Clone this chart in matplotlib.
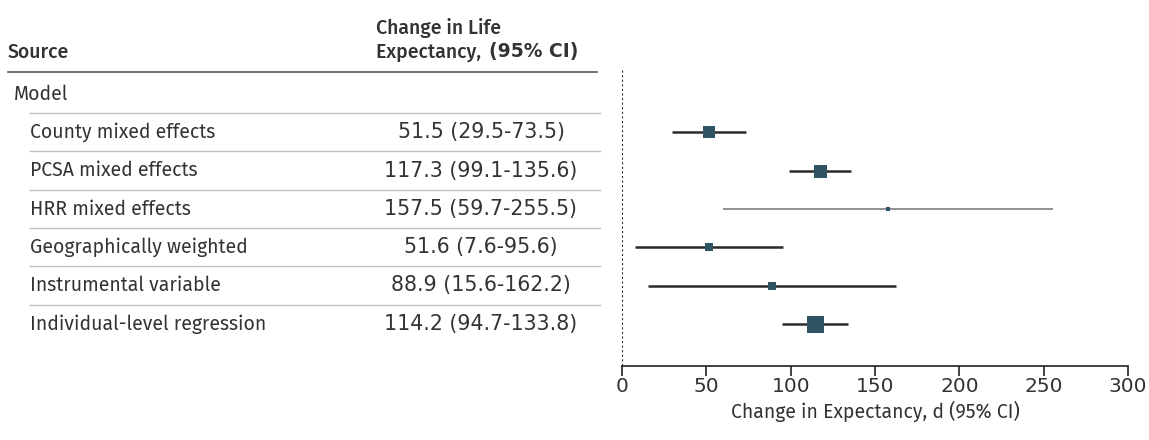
import matplotlib.pyplot as plt
import numpy as np

plt.rcParams['font.family'] = ['Fira Sans', 'DejaVu Sans']

models = ["County mixed effects", "PCSA mixed effects", "HRR mixed effects",
          "Geographically weighted", "Instrumental variable", "Individual-level regression"]
est = [51.5, 117.3, 157.5, 51.6, 88.9, 114.2]
lo = [29.5, 99.1, 59.7, 7.6, 15.6, 94.7]
hi = [73.5, 135.6, 255.5, 95.6, 162.2, 133.8]
# marker side in px (relative weight of each estimate)
weight = [12, 13, 5, 8, 8, 17]
xticks = [0, 50, 100, 150, 200, 250, 300]

txt = "#333333"
sq = "#2f5565"
numfont = "DejaVu Sans"   # wide figures, like the original

W, H = 1149, 440
fig = plt.figure(figsize=(W / 100, H / 100), dpi=100)

row0 = 94
step = 38.3
top, bot = 70, 366

# table layer in pixel coordinates
tab = fig.add_axes([0, 0, 1, 1])
tab.set_xlim(0, W)
tab.set_ylim(H, 0)
tab.axis("off")

fs = 14
nfs = 14.8
tab.text(8, 52, "Source", fontsize=fs, color=txt, fontweight="medium", va="center")
tab.text(376, 28, "Change in Life", fontsize=fs, color=txt, fontweight="medium", va="center")
t1 = tab.text(376, 52, "Expectancy, ", fontsize=fs, color=txt, fontweight="medium", va="center")
fig.canvas.draw()
bb = t1.get_window_extent()
tab.text(bb.x1 + 3, 52, "(95% CI)", fontsize=fs - 0.5, color=txt, family=numfont,
         fontweight="bold", va="center")
tab.plot([8, 597], [72, 72], color="#555555", lw=1.2)
tab.text(14, row0, "Model", fontsize=fs, color=txt, va="center")
tab.plot([30, 600], [row0 + step / 2, row0 + step / 2], color="#c0c0c0", lw=1)

for i, name in enumerate(models):
    y = row0 + step * (i + 1)
    tab.text(30, y, name, fontsize=fs, color=txt, va="center")
    tab.text(481, y, "%.1f (%.1f-%.1f)" % (est[i], lo[i], hi[i]), family=numfont,
             fontsize=nfs, color=txt, va="center", ha="center")
    if i < len(models) - 1:
        tab.plot([30, 600], [y + step / 2, y + step / 2], color="#c0c0c0", lw=1)

# forest plot
x0, x1 = 622, 1128
ax = fig.add_axes([x0 / W, 1 - bot / H, (x1 - x0) / W, (bot - top) / H])
ax.set_xlim(0, 300)
ax.set_ylim((bot - row0) / step, (top - row0) / step)
ax.patch.set_alpha(0)
for s in ["top", "right", "left"]:
    ax.spines[s].set_visible(False)
ax.spines["bottom"].set_color("#222222")
ax.spines["bottom"].set_linewidth(1.2)
ax.set_yticks([])
ax.set_xticks(xticks)
ax.tick_params(axis="x", length=7, width=1.2, color="#222222", labelsize=14.5,
               labelcolor=txt, pad=1)
for lab in ax.get_xticklabels():
    lab.set_family(numfont)
ax.axvline(0, color="#222222", lw=1.5, ls=(0, (1, 1.2)))

for i in range(len(models)):
    r = i + 1
    lc = "#888888" if i == 2 else "#2a2a2a"
    lw = 1.3 if i == 2 else 1.8
    ax.plot([lo[i], hi[i]], [r, r], color=lc, lw=lw, solid_capstyle="butt")
    ax.plot(est[i], r, marker="s", ms=weight[i] * 0.72, color=sq, mew=0)

ax.set_xlabel("Change in Expectancy, d (95% CI)", fontsize=fs, color=txt, labelpad=3)

fig.savefig("out.png", dpi=100)
